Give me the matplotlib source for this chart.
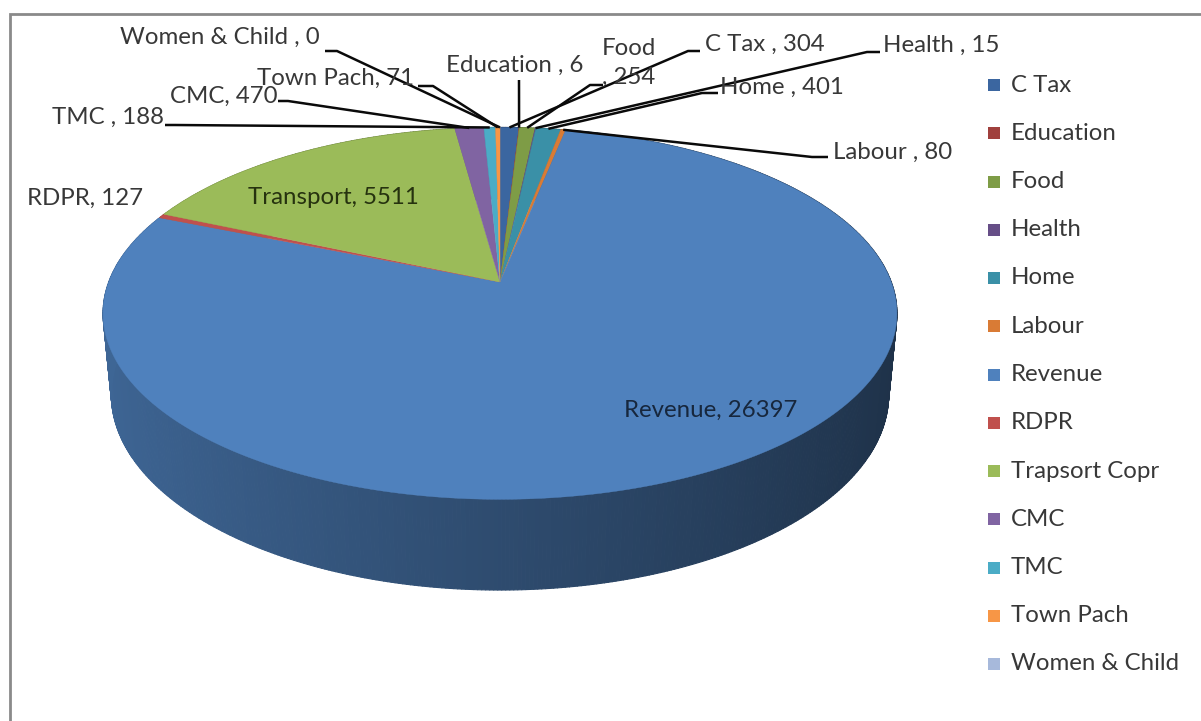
import numpy as np
import matplotlib.pyplot as plt
from matplotlib.patches import Polygon, Rectangle
from matplotlib.collections import PolyCollection
from matplotlib.colors import to_rgb

# Department-wise amounts (legend order = slice order, clockwise from 12 o'clock)
categories = ["C Tax", "Education", "Food", "Health", "Home", "Labour", "Revenue",
              "RDPR", "Trapsort Copr", "CMC", "TMC", "Town Pach", "Women & Child"]
values = [304, 6, 254, 15, 401, 80, 26397, 127, 5511, 470, 188, 71, 0]
label_names = ["C Tax", "Education", "Food", "Health", "Home", "Labour", "Revenue",
               "RDPR", "Transport", "CMC", "TMC", "Town Pach", "Women & Child"]
label_seps = [" , ", " , ", "\n, ", " , ", " , ", " , ", ", ",
              ", ", ", ", ", ", " , ", ", ", " , "]
colors = ["#3B66A0", "#A0403D", "#7E9C46", "#664E87", "#3A90A7", "#D97B35", "#4F81BD",
          "#C0504D", "#9BBB59", "#8064A2", "#4BACC6", "#F79646", "#A7B9DB"]

plt.rcParams['font.family'] = ['Lato', 'DejaVu Sans']
FS = 17.3
TXT = "#383838"

fig = plt.figure(figsize=(12.01, 7.21), dpi=100)
ax = fig.add_axes([0, 0, 1, 1])
ax.set_xlim(0, 1201)
ax.set_ylim(721, 0)
ax.axis('off')

# chart frame
ax.plot([10, 10, 1201], [721, 14, 14], color="#8a8a8a", lw=2.0,
        solid_capstyle='butt', solid_joinstyle='miter')

# perspective view of a flat cylinder (radius 1, thickness THICK)
ELEV = np.radians(27.5)
DIST = 5.26
FOCAL = 2058.0
THICK = 0.2357
CX, CY = 500.0, 282.0
S, C = np.sin(ELEV), np.cos(ELEV)


def project(t, z=0.0, r=1.0):
    u = r * np.sin(t)
    v = r * np.cos(t)
    d = DIST + v * C - z * S
    return CX + FOCAL * u / d, CY - FOCAL * (v * S + z * C) / d


def shade(t):
    return 0.585 - 0.205 * np.sin(t)


total = float(sum(values))
bounds = 2 * np.pi * np.concatenate([[0.0], np.cumsum(values)]) / total
step = np.radians(0.5)

# outer side walls
side_polys, side_cols = [], []
for i, val in enumerate(values):
    if val <= 0:
        continue
    t1, t2 = bounds[i], bounds[i + 1]
    ts = np.append(np.arange(t1, t2, step), t2)
    base = np.array(to_rgb(colors[i]))
    for ta, tb in zip(ts[:-1], ts[1:]):
        xa, ya = project(ta)
        xb, yb = project(tb)
        xc, yc = project(tb, -THICK)
        xd, yd = project(ta, -THICK)
        side_polys.append([(xa, ya), (xb, yb), (xc, yc), (xd, yd)])
        side_cols.append(np.clip(base * shade(0.5 * (ta + tb)), 0, 1))
ax.add_collection(PolyCollection(side_polys, facecolors=side_cols,
                                 edgecolors=side_cols, linewidths=0.8))

# top faces
for i, val in enumerate(values):
    if val <= 0:
        continue
    t1, t2 = bounds[i], bounds[i + 1]
    ts = np.append(np.arange(t1, t2, step), t2)
    xs, ys = project(ts)
    pts = [(CX, CY)] + list(zip(xs, ys))
    ax.add_patch(Polygon(pts, closed=True, facecolor=colors[i],
                         edgecolor=colors[i], lw=0.3))

# data labels: (x, y, ha) and leader path points near the text
label_layout = {
    0: (705, 44, 'left', [(700, 51), (688, 51)]),
    1: (515, 65, 'center', [(519, 80)]),
    2: (629, 63, 'center', [(603, 85), (590, 85)]),
    3: (883, 45, 'left', [(880, 52), (867, 52)]),
    4: (720, 87, 'left', [(718, 93), (702, 93)]),
    5: (833, 152, 'left', [(828, 157), (812, 157)]),
    6: (711, 410, 'center', None),
    7: (27, 198, 'left', None),
    8: (333, 197, 'center', None),
    9: (170, 96, 'left', [(278, 101), (288, 101)]),
    10: (52, 117, 'left', [(165, 125), (175, 125)]),
    11: (257, 78, 'left', [(418, 86), (433, 86)]),
    12: (120, 37, 'left', [(325, 51), (337, 51)]),
}
inside_colors = {6: "#17273d", 8: "#26320f"}

for i, (x, y, ha, path) in label_layout.items():
    text = f"{label_names[i]}{label_seps[i]}{values[i]}"
    ax.text(x, y, text, ha=ha, va='center', fontsize=FS,
            color=inside_colors.get(i, TXT), linespacing=1.45,
            multialignment='center')
    if path:
        tm = 0.5 * (bounds[i] + bounds[i + 1])
        ax_, ay_ = project(tm)
        px = [p[0] for p in path] + [ax_]
        py = [p[1] for p in path] + [ay_]
        ax.plot(px, py, color="#0a0a0a", lw=1.8, solid_capstyle='butt')

# legend
for i, name in enumerate(categories):
    yy = 85 + 48.25 * i
    ax.add_patch(Rectangle((988, yy - 6), 12, 12, facecolor=colors[i], edgecolor='none'))
    ax.text(1011, yy, name, ha='left', va='center', fontsize=FS, color=TXT)

fig.savefig("out.png", dpi=100, facecolor="white")
